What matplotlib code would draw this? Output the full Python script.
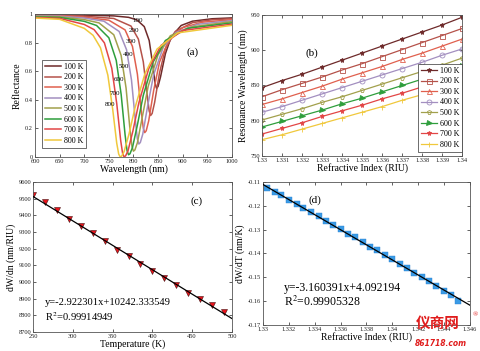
import matplotlib
matplotlib.use('Agg')
import matplotlib.pyplot as plt
import numpy as np

plt.rcParams['font.family'] = ['Liberation Serif', 'DejaVu Serif']
plt.rcParams['mathtext.fontset'] = 'stix'

# ---- (a) reflectance spectra ----
temps = ['100 K', '200 K', '300 K', '400 K', '500 K', '600 K', '700 K', '800 K']
colors = ['#6e2a2a', '#b5524a', '#e0604e', '#a38fc0', '#a2a04c', '#2e9e3c', '#e24646', '#f0c83c']

wl100 = [600, 650, 700, 760, 790, 807, 822, 832, 840, 844, 847, 850, 855, 865, 877, 897, 920, 960, 1000]
r100 = [0.994, 0.994, 0.992, 0.987, 0.977, 0.959, 0.912, 0.815, 0.628, 0.516, 0.48, 0.493, 0.559, 0.723, 0.842, 0.92, 0.95, 0.967, 0.973]
wl200 = [600, 650, 700, 760, 795, 810, 820, 828, 832, 835, 838, 843, 853, 865, 885, 920, 960, 1000]
r200 = [0.992, 0.991, 0.985, 0.969, 0.916, 0.825, 0.666, 0.431, 0.321, 0.29, 0.304, 0.38, 0.588, 0.758, 0.878, 0.94, 0.96, 0.967]
wl300 = [600, 650, 700, 750, 783, 798, 808, 816, 820, 823, 826, 831, 841, 853, 873, 900, 940, 1000]
r300 = [0.99, 0.988, 0.978, 0.957, 0.889, 0.773, 0.58, 0.317, 0.201, 0.17, 0.183, 0.252, 0.463, 0.664, 0.826, 0.905, 0.943, 0.96]
wl400 = [600, 650, 700, 740, 771, 786, 796, 804, 808, 811, 814, 819, 829, 841, 861, 886, 930, 1000]
r400 = [0.987, 0.985, 0.972, 0.95, 0.878, 0.75, 0.539, 0.251, 0.125, 0.09, 0.101, 0.16, 0.359, 0.574, 0.771, 0.87, 0.928, 0.954]
wl500 = [600, 650, 700, 730, 760, 775, 785, 793, 797, 800, 803, 808, 818, 830, 850, 875, 920, 1000]
r500 = [0.984, 0.981, 0.961, 0.938, 0.855, 0.71, 0.482, 0.192, 0.072, 0.04, 0.049, 0.099, 0.279, 0.495, 0.715, 0.848, 0.911, 0.947]
wl600 = [600, 650, 700, 725, 750, 765, 775, 783, 787, 790, 793, 798, 808, 820, 840, 865, 910, 1000]
r600 = [0.98, 0.976, 0.949, 0.92, 0.834, 0.676, 0.438, 0.155, 0.044, 0.015, 0.022, 0.065, 0.223, 0.431, 0.664, 0.815, 0.9, 0.938]
wl700 = [600, 650, 700, 720, 741, 756, 766, 774, 778, 781, 784, 789, 799, 811, 831, 856, 900, 1000]
r700 = [0.976, 0.97, 0.927, 0.891, 0.798, 0.62, 0.375, 0.117, 0.024, 0.0, 0.007, 0.043, 0.183, 0.379, 0.617, 0.78, 0.885, 0.929]
wl800 = [600, 650, 700, 718, 733, 748, 758, 766, 770, 773, 776, 781, 791, 803, 823, 848, 890, 1000]
r800 = [0.972, 0.963, 0.90, 0.851, 0.764, 0.572, 0.329, 0.097, 0.02, 0.0, 0.005, 0.037, 0.16, 0.342, 0.579, 0.755, 0.868, 0.921]

spec_wl = [wl100, wl200, wl300, wl400, wl500, wl600, wl700, wl800]
spec_r = [r100, r200, r300, r400, r500, r600, r700, r800]

# curve labels written on the plot
curve_tags = ['100', '200', '300', '400', '500', '600', '700', '800']
tag_wl = [808, 800, 795, 790, 780, 771, 763, 752]
tag_r = [0.958, 0.883, 0.806, 0.72, 0.63, 0.54, 0.445, 0.37]

# ---- (b) resonance wavelength vs refractive index ----
ri = [1.330, 1.331, 1.332, 1.333, 1.334, 1.335, 1.336, 1.337, 1.338, 1.339, 1.340]
ri_labels = ['1.33', '1.331', '1.332', '1.333', '1.334', '1.335', '1.336', '1.337', '1.338', '1.339', '1.34']
res100 = [847, 857, 866, 876, 886, 896, 906, 916, 926, 936, 947]
res200 = [834, 844, 853, 862, 872, 881, 891, 901, 911, 921, 931]
res300 = [823, 831, 840, 849, 859, 868, 877, 887, 896, 906, 916]
res400 = [812, 820, 829, 838, 847, 856, 865, 874, 883, 893, 902]
res500 = [801, 809, 817, 826, 834, 843, 852, 861, 870, 879, 889]
res600 = [791, 799, 807, 815, 824, 832, 841, 850, 859, 868, 877]
res700 = [781, 789, 797, 806, 814, 822, 831, 839, 848, 857, 866]
res800 = [773, 780, 788, 796, 804, 812, 820, 829, 837, 846, 855]
res_all = [res100, res200, res300, res400, res500, res600, res700, res800]
markers = ['*', 's', '^', 'o', 'p', '>', '*', '+']
filled = [True, False, False, False, False, True, True, True]

# ---- (c) sensitivity vs temperature ----
temp_k = [250, 265, 280, 295, 310, 325, 340, 355, 370, 385, 400, 415, 430, 445, 460, 475, 490]
dwdn = [9520, 9478, 9430, 9380, 9335, 9292, 9248, 9192, 9157, 9110, 9068, 9022, 8980, 8935, 8895, 8862, 8818]
fit_c = (-2.922301, 10242.333549)

# ---- (d) dW/dT vs refractive index ----
ri_d = [1.3303, 1.3309, 1.3314, 1.3320, 1.3326, 1.3331, 1.3337, 1.3343, 1.3349, 1.3354,
        1.3360, 1.3366, 1.3371, 1.3377, 1.3383, 1.3388, 1.3394, 1.3400, 1.3406, 1.3411,
        1.3417, 1.3423, 1.3428, 1.3434, 1.3440, 1.3445, 1.3451]
dwdt = [-0.1125, -0.1142, -0.1157, -0.1175, -0.1193, -0.1208, -0.1226, -0.1245, -0.1264, -0.1280,
        -0.1298, -0.1317, -0.1333, -0.1352, -0.1371, -0.1387, -0.1406, -0.1425, -0.1444, -0.1461,
        -0.1480, -0.1500, -0.1517, -0.1537, -0.1557, -0.1575, -0.1598]
fit_d = (-3.160391, 4.092194)


def style(ax):
    ax.tick_params(direction='in', top=True, right=True, length=2, width=0.5,
                   labelsize=4.6, pad=1.5, colors='#222222')
    for s in ax.spines.values():
        s.set_linewidth(0.6)
        s.set_color('#555555')


fig = plt.figure(figsize=(4.8, 3.51), dpi=100)
ax_a = fig.add_axes([0.073, 0.553, 0.410, 0.407])
ax_b = fig.add_axes([0.546, 0.556, 0.417, 0.401])
ax_c = fig.add_axes([0.069, 0.054, 0.414, 0.428])
ax_d = fig.add_axes([0.548, 0.074, 0.431, 0.408])

# (a)
for i in range(len(temps)):
    ax_a.plot(spec_wl[i], spec_r[i], color=colors[i], lw=1.1, label=temps[i])
for i in range(len(curve_tags)):
    ax_a.text(tag_wl[i], tag_r[i], curve_tags[i], fontsize=5, ha='center', va='center')
ax_a.set_xlim(600, 1000)
ax_a.set_ylim(0, 1)
ax_a.set_xticks(np.arange(600, 1001, 50))
ax_a.set_yticks([0, 0.2, 0.4, 0.6, 0.8, 1])
ax_a.set_yticklabels(['0', '0.2', '0.4', '0.6', '0.8', '1'])
ax_a.set_xlabel('Wavelength (nm)', fontsize=7, labelpad=0)
ax_a.set_ylabel('Reflectance', fontsize=7, labelpad=2)
ax_a.text(0.80, 0.73, '(a)', transform=ax_a.transAxes, fontsize=8, ha='center', va='center')
leg = ax_a.legend(loc='lower left', bbox_to_anchor=(0.035, 0.065), fontsize=5.8, handlelength=2.0,
                  labelspacing=0.32, borderpad=0.35, handletextpad=0.4, fancybox=False,
                  edgecolor='#333333', framealpha=1, borderaxespad=0)
leg.get_frame().set_linewidth(0.5)
style(ax_a)

# (b)
for i in range(len(temps)):
    ax_b.plot(ri, res_all[i], color=colors[i], lw=0.9, marker=markers[i], ms=3.6,
              markerfacecolor=colors[i] if filled[i] else 'none', markeredgewidth=0.6,
              label=temps[i])
ax_b.set_xlim(1.33, 1.34)
ax_b.set_ylim(750, 950)
ax_b.set_xticks(ri)
ax_b.set_xticklabels(ri_labels)
ax_b.set_yticks([750, 800, 850, 900, 950])
ax_b.set_xlabel('Refractive Index (RIU)', fontsize=7, labelpad=0)
ax_b.set_ylabel('Resonance Wavelength (nm)', fontsize=7, labelpad=2)
ax_b.text(0.25, 0.73, '(b)', transform=ax_b.transAxes, fontsize=8, ha='center', va='center')
leg = ax_b.legend(loc='lower right', bbox_to_anchor=(1.0, 0.03), fontsize=5.8, handlelength=2.0,
                  labelspacing=0.32, borderpad=0.35, handletextpad=0.4, numpoints=1,
                  fancybox=False, edgecolor='#333333', framealpha=1, borderaxespad=0)
leg.get_frame().set_linewidth(0.5)
style(ax_b)

# (c)
xc = np.array([250, 500])
ax_c.plot(xc, fit_c[0] * xc + fit_c[1], color='black', lw=0.9, zorder=3)
ax_c.plot(temp_k, dwdn, linestyle='none', marker='v', ms=4.2, color='#e8141c',
          markeredgecolor='#401010', markeredgewidth=0.4, zorder=2)
ax_c.set_xlim(250, 500)
ax_c.set_ylim(8700, 9600)
ax_c.set_xticks(np.arange(250, 501, 50))
ax_c.set_yticks(np.arange(8700, 9601, 100))
ax_c.set_xlabel('Temperature (K)', fontsize=7, labelpad=0)
ax_c.set_ylabel('dW/dn (nm/RIU)', fontsize=7, labelpad=2)
ax_c.text(0.82, 0.87, '(c)', transform=ax_c.transAxes, fontsize=8, ha='center', va='center')
ax_c.text(0.06, 0.20, 'y=-2.922301x+10242.333549', transform=ax_c.transAxes, fontsize=7.6, va='center')
ax_c.text(0.06, 0.10, 'R$^2$=0.99914949', transform=ax_c.transAxes, fontsize=7.6, va='center')
style(ax_c)

# (d)
xd = np.array([1.33, 1.346])
ax_d.plot(ri_d, dwdt, linestyle='none', marker='s', ms=4.4, color='#3a9be6',
          markeredgecolor='#2a80d0', markeredgewidth=0.3, zorder=2)
ax_d.plot(xd, fit_d[0] * xd + fit_d[1], color='black', lw=0.9, zorder=3)
ax_d.set_xlim(1.33, 1.346)
ax_d.set_ylim(-0.17, -0.11)
ax_d.set_xticks([1.33, 1.332, 1.334, 1.336, 1.338, 1.34, 1.342, 1.344, 1.346])
ax_d.set_xticklabels(['1.33', '1.332', '1.334', '1.336', '1.338', '1.34', '1.342', '1.344', '1.346'])
ax_d.set_yticks([-0.17, -0.16, -0.15, -0.14, -0.13, -0.12, -0.11])
ax_d.set_yticklabels(['-0.17', '-0.16', '-0.15', '-0.14', '-0.13', '-0.12', '-0.11'])
ax_d.set_xlabel('Refractive Index (RIU)', fontsize=7, labelpad=0)
ax_d.set_ylabel('dW/dT (nm/K)', fontsize=7, labelpad=2)
ax_d.text(0.25, 0.87, '(d)', transform=ax_d.transAxes, fontsize=8, ha='center', va='center')
ax_d.text(0.10, 0.26, 'y=-3.160391x+4.092194', transform=ax_d.transAxes, fontsize=8.5, va='center')
ax_d.text(0.10, 0.165, 'R$^2$=0.99905328', transform=ax_d.transAxes, fontsize=8.5, va='center')
style(ax_d)

# site watermark in the corner
fig.text(0.912, 0.079, '仪商网', family=['Noto Sans CJK SC', 'DejaVu Sans'], fontsize=10.5,
         fontweight='bold', color='#e01c1c', ha='center', va='center', zorder=10)
fig.text(0.99, 0.104, '®', fontsize=5, color='#e01c1c', ha='center', va='center', zorder=10)
fig.text(0.918, 0.02, '861718.com', family='DejaVu Sans', fontsize=5.5, fontweight='bold',
         style='italic', color='#e01c1c', ha='center', va='center', zorder=10)

fig.savefig('out.png', dpi=100)
